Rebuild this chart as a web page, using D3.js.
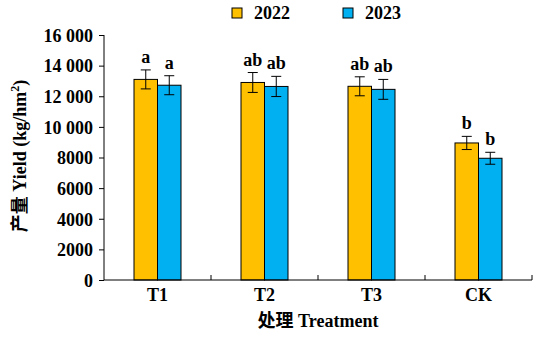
<!DOCTYPE html>
<html><head><meta charset="utf-8">
<script src="https://cdn.jsdelivr.net/npm/d3@7"></script>
<style>body{margin:0;background:#fff}svg{display:block}</style>
</head><body><div id="c"></div>
<script>
const categories = ["T1","T2","T3","CK"];
const seriesNames = ["2022","2023"];
const values2022 = [13100, 12900, 12650, 8950];
const values2023 = [12720, 12640, 12450, 7950];
const err2022 = [620, 650, 620, 430];
const err2023 = [620, 660, 650, 390];
const letters2022 = ["a","ab","ab","b"];
const letters2023 = ["a","ab","ab","b"];
const yTicks = [0,2000,4000,6000,8000,10000,12000,14000,16000];
const colors = ["#FFC000","#00B0F0"];

const W=538,H=338;
const FS=18;
const font='"Liberation Serif","Times New Roman","Noto Sans CJK SC",serif';
const svg=d3.select("#c").append("svg").attr("width",W).attr("height",H);
const x=d3.scaleBand().domain(categories).range([104,532]).padding(0);
const y=d3.scaleLinear().domain([0,16000]).range([280,35]);
const bw=23.5;
const xs=d3.scaleBand().domain(seriesNames).range([-bw,bw]);

const fmt=v=>v>=10000?d3.format(",")(v).replace(","," "):String(v);
const data=[];
categories.forEach((c,i)=>{
  data.push({c,s:"2022",v:values2022[i],e:err2022[i],l:letters2022[i],k:0});
  data.push({c,s:"2023",v:values2023[i],e:err2023[i],l:letters2023[i],k:1});
});
const g=svg.append("g");
g.selectAll("rect.bar").data(data).join("rect").attr("class","bar")
 .attr("x",d=>x(d.c)+x.bandwidth()/2+xs(d.s)).attr("width",xs.bandwidth())
 .attr("y",d=>y(d.v)).attr("height",d=>y(0)-y(d.v))
 .attr("fill",d=>colors[d.k]).attr("stroke","#000").attr("stroke-width",1);
const eb=g.selectAll("g.eb").data(data).join("g").attr("class","eb")
 .attr("transform",d=>`translate(${x(d.c)+x.bandwidth()/2+xs(d.s)+xs.bandwidth()/2},0)`);
eb.append("line").attr("y1",d=>y(d.v+d.e)).attr("y2",d=>y(d.v-d.e)).attr("stroke","#000");
eb.append("line").attr("x1",-5).attr("x2",5).attr("y1",d=>y(d.v+d.e)).attr("y2",d=>y(d.v+d.e)).attr("stroke","#000");
eb.append("line").attr("x1",-5).attr("x2",5).attr("y1",d=>y(d.v-d.e)).attr("y2",d=>y(d.v-d.e)).attr("stroke","#000");
eb.append("text").attr("y",d=>y(d.v+d.e)-7).attr("text-anchor","middle")
 .attr("font-family",font).attr("font-weight","bold").attr("font-size",FS).text(d=>d.l);

// y axis
const ya=svg.append("g").attr("transform","translate(104,0)")
 .call(d3.axisLeft(y).tickValues(yTicks).tickSize(5).tickPadding(6).tickFormat(fmt));
ya.select(".domain").attr("stroke","#000").attr("d","M0,35V280");
ya.selectAll("text").attr("font-family",font).attr("font-weight","bold").attr("font-size",FS).attr("fill","#000").attr("dy","0.35em").style("white-space","pre");
// x axis
const xa=svg.append("g").attr("transform","translate(0,280)");
xa.append("line").attr("x1",104).attr("x2",532).attr("stroke","#000");
xa.selectAll("line.tk").data(categories).join("line").attr("class","tk")
 .attr("x1",d=>x(d)+x.bandwidth()).attr("x2",d=>x(d)+x.bandwidth()).attr("y1",0).attr("y2",-5).attr("stroke","#000");
xa.selectAll("text").data(categories).join("text")
 .attr("x",d=>x(d)+x.bandwidth()/2).attr("y",21).attr("text-anchor","middle")
 .attr("font-family",font).attr("font-weight","bold").attr("font-size",FS).text(d=>d);

svg.append("text").attr("x",318).attr("y",327).attr("text-anchor","middle")
 .attr("font-family",font).attr("font-weight","bold").attr("font-size",FS).text("处理 Treatment");
const yt=svg.append("text").attr("transform","translate(26,156) rotate(-90)").attr("text-anchor","middle")
 .attr("font-family",font).attr("font-weight","bold").attr("font-size",FS);
yt.append("tspan").text("产量 Yield (kg/hm");
yt.append("tspan").attr("baseline-shift","super").attr("font-size",12).text("2");
yt.append("tspan").text(")");

// legend
const lg=svg.append("g");
const lx=[232,343];
seriesNames.forEach((s,i)=>{
  lg.append("rect").attr("x",lx[i]).attr("y",8).attr("width",10).attr("height",10)
   .attr("fill",colors[i]).attr("stroke","#000");
  lg.append("text").attr("x",lx[i]+22).attr("y",19).attr("font-family",font)
   .attr("font-weight","bold").attr("font-size",FS).text(s);
});
</script></body></html>
